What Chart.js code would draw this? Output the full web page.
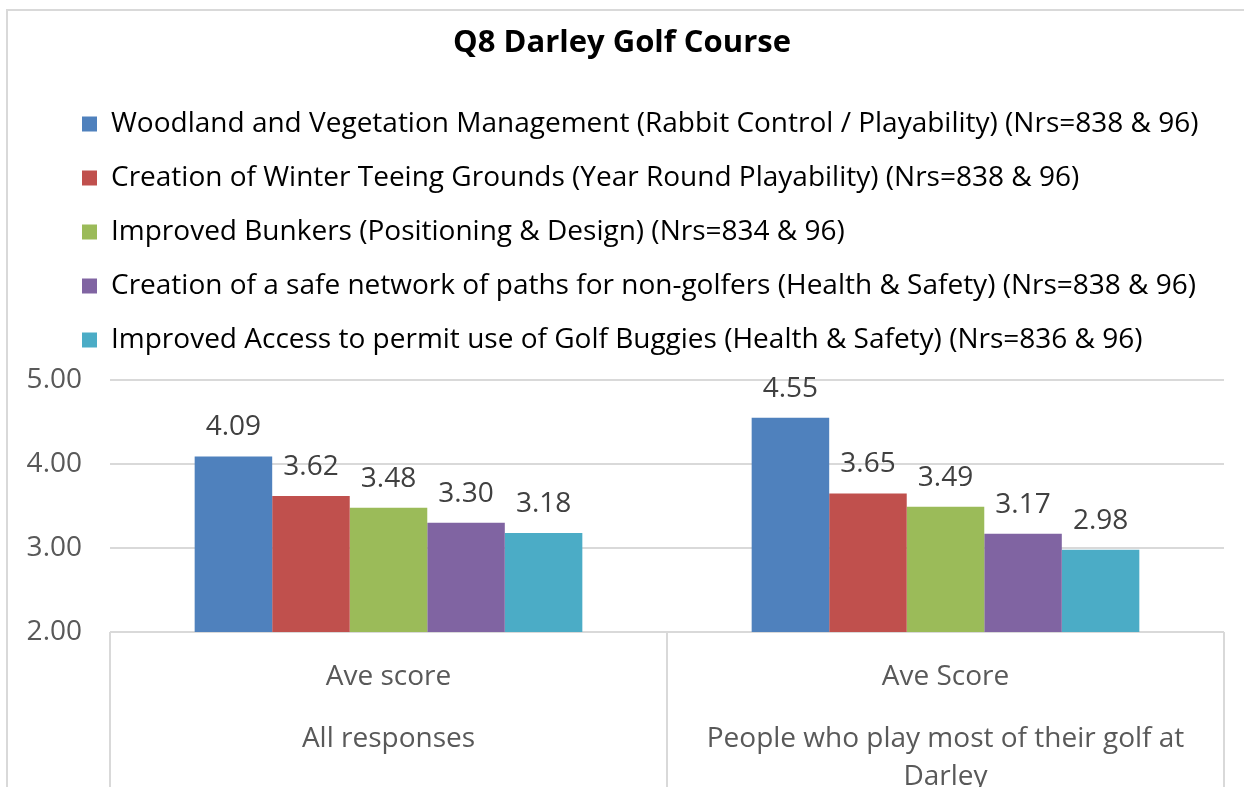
<!DOCTYPE html>
<html>
<head>
<meta charset="utf-8">
<script src="https://cdn.jsdelivr.net/npm/chart.js@4.4.1/dist/chart.umd.min.js"></script>
<style>
  html, body { margin: 0; padding: 0; background: #fff; overflow: hidden; }
  #wrap { width: 1244px; height: 787px; }
</style>
</head>
<body>
<div id="wrap"><canvas id="chart" width="1244" height="787"></canvas></div>
<script>
const categories = ["Ave score", "Ave Score"];
const groupLabels = [["All responses"], ["People who play most of their golf at", "Darley"]];
const seriesNames = [
    "Woodland and Vegetation Management (Rabbit Control / Playability) (Nrs=838 & 96)",
    "Creation of Winter Teeing Grounds (Year Round Playability) (Nrs=838 & 96)",
    "Improved Bunkers (Positioning & Design) (Nrs=834 & 96)",
    "Creation of a safe network of paths for non-golfers (Health & Safety) (Nrs=838 & 96)",
    "Improved Access to permit use of Golf Buggies (Health & Safety) (Nrs=836 & 96)",
];
const woodland = [4.09, 4.55];
const winterTees = [3.62, 3.65];
const bunkers = [3.48, 3.49];
const paths = [3.30, 3.17];
const buggies = [3.18, 2.98];
const seriesColors = ["#4F81BD", "#C0504D", "#9BBB59", "#8064A2", "#4BACC6"];
const yTicks = [2, 3, 4, 5];

const FONT = "'Open Sans', sans-serif";
const GRID = "#d9d9d9";

// white page + the light frame round the chart
const framePlugin = {
    id: "frame",
    beforeDraw(chart) {
        const ctx = chart.ctx;
        ctx.save();
        ctx.fillStyle = "#fff";
        ctx.fillRect(0, 0, chart.width, chart.height);
        ctx.strokeStyle = GRID;
        ctx.lineWidth = 2;
        ctx.beginPath();
        ctx.moveTo(7, chart.height);
        ctx.lineTo(7, 10);
        ctx.lineTo(chart.width, 10);
        ctx.stroke();
        ctx.restore();
    },
};

// legend sits further right than the y labels, move it after layout
const legendShift = {
    id: "legendShift",
    afterLayout(chart) {
        chart.legend.left = 56;
    },
};

// value above each bar
const valueLabels = {
    id: "valueLabels",
    afterDatasetsDraw(chart) {
        const ctx = chart.ctx;
        ctx.save();
        ctx.font = "28px " + FONT;
        ctx.fillStyle = "#404040";
        ctx.textAlign = "center";
        ctx.textBaseline = "alphabetic";
        chart.data.datasets.forEach((ds, i) => {
            chart.getDatasetMeta(i).data.forEach((bar, j) => {
                ctx.fillText(ds.data[j].toFixed(2), bar.x, bar.y - 21);
            });
        });
        ctx.restore();
    },
};

// Excel style two level category axis with boxes
const categoryAxis = {
    id: "categoryAxis",
    afterDraw(chart) {
        const ctx = chart.ctx;
        const x = chart.scales.x;
        const area = chart.chartArea;
        const n = categories.length;
        const bounds = [area.left];
        for (let i = 1; i < n; i++) {
            bounds.push((x.getPixelForValue(i - 1) + x.getPixelForValue(i)) / 2);
        }
        bounds.push(area.right);

        ctx.save();
        ctx.strokeStyle = GRID;
        ctx.lineWidth = 2;
        ctx.beginPath();
        bounds.forEach((bx) => {
            ctx.moveTo(bx, area.bottom);
            ctx.lineTo(bx, chart.height);
        });
        ctx.stroke();

        ctx.font = "28px " + FONT;
        ctx.fillStyle = "#595959";
        ctx.textAlign = "center";
        ctx.textBaseline = "alphabetic";
        categories.forEach((label, i) => {
            const cx = x.getPixelForValue(i);
            ctx.fillText(label, cx, area.bottom + 53);
            groupLabels[i].forEach((line, k) => {
                ctx.fillText(line, cx, area.bottom + 115 + k * 38);
            });
        });
        ctx.restore();
    },
};

const seriesData = [woodland, winterTees, bunkers, paths, buggies];

new Chart(document.getElementById("chart"), {
    type: "bar",
    data: {
        labels: categories,
        datasets: seriesNames.map((name, i) => ({
            label: name,
            data: seriesData[i],
            backgroundColor: seriesColors[i],
            borderWidth: 0,
            categoryPercentage: 0.696,
            barPercentage: 1.0,
        })),
    },
    options: {
        responsive: false,
        animation: false,
        devicePixelRatio: 1,
        layout: {
            padding: { left: 20, right: 20, top: 0, bottom: 155 },
        },
        scales: {
            x: {
                display: false,
            },
            y: {
                min: yTicks[0],
                max: yTicks[yTicks.length - 1],
                ticks: {
                    stepSize: 1,
                    padding: 28,
                    color: "#595959",
                    font: { family: FONT, size: 28 },
                    callback: (v) => Number(v).toFixed(2),
                },
                grid: {
                    color: GRID,
                    lineWidth: 2,
                    drawTicks: false,
                },
                border: { display: false },
                afterFit: (scale) => {
                    scale.width = 90;
                },
            },
        },
        plugins: {
            title: {
                display: true,
                text: "Q8 Darley Golf Course",
                color: "#000",
                font: { family: FONT, size: 31, weight: "bold", lineHeight: 1.2 },
                padding: { top: 24.4, bottom: 22.4 },
            },
            subtitle: {
                // empty spacer between legend and plot
                display: true,
                text: " ",
                weight: 100,
                font: { size: 1, lineHeight: 1 },
                padding: { top: 15, bottom: 0 },
            },
            legend: {
                position: "top",
                align: "start",
                labels: {
                    color: "#000",
                    font: { family: FONT, size: 28 },
                    boxWidth: 15,
                    boxHeight: 15,
                    padding: 26,
                },
            },
            tooltip: { enabled: false },
        },
    },
    plugins: [framePlugin, legendShift, valueLabels, categoryAxis],
});
</script>
</body>
</html>
